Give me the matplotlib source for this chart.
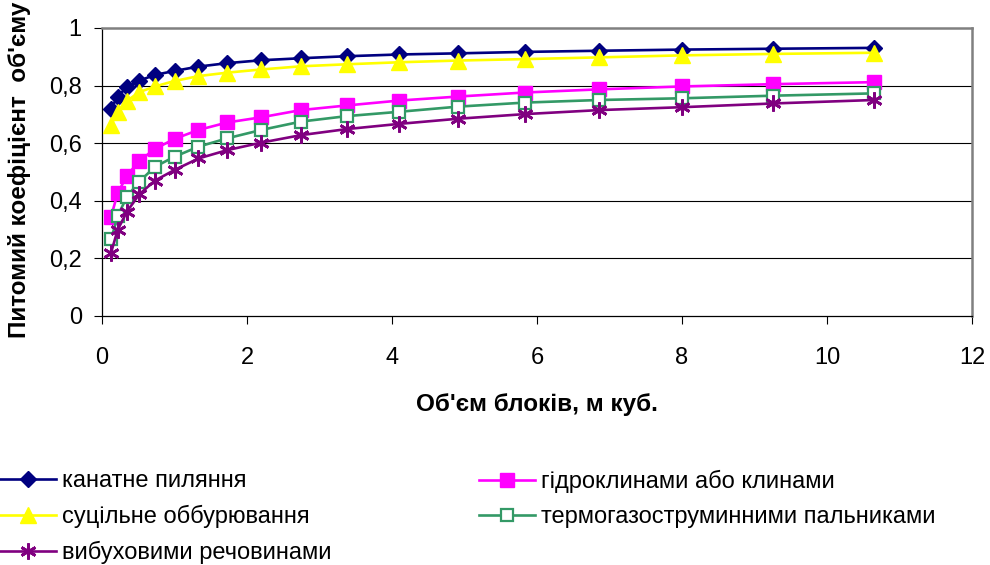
import matplotlib
matplotlib.use('Agg')
import matplotlib.pyplot as plt

plt.rcParams['font.family'] = ['Liberation Sans', 'DejaVu Sans']

# Об'єм блоків, м куб.
volume = [0.125, 0.216, 0.343, 0.512, 0.729, 1.0, 1.331, 1.728, 2.197,
          2.744, 3.375, 4.096, 4.913, 5.832, 6.859, 8.0, 9.261, 10.648]

# Питомий коефіцієнт об'єму
kanatne = [0.72, 0.762, 0.795, 0.817, 0.837, 0.851, 0.866, 0.878, 0.888,
           0.895, 0.902, 0.908, 0.912, 0.917, 0.921, 0.925, 0.928, 0.931]
hidroklyny = [0.345, 0.426, 0.487, 0.538, 0.580, 0.615, 0.646, 0.672, 0.690,
              0.715, 0.731, 0.748, 0.762, 0.776, 0.787, 0.797, 0.805, 0.812]
obburyuvannya = [0.663, 0.71, 0.747, 0.777, 0.797, 0.816, 0.833, 0.845, 0.856,
                 0.867, 0.874, 0.881, 0.887, 0.892, 0.898, 0.905, 0.910, 0.914]
termogaz = [0.266, 0.347, 0.414, 0.466, 0.518, 0.553, 0.588, 0.617, 0.646,
            0.675, 0.694, 0.709, 0.727, 0.741, 0.75, 0.756, 0.765, 0.773]
vybukhovi = [0.220, 0.299, 0.362, 0.422, 0.470, 0.507, 0.547, 0.576, 0.602,
             0.628, 0.649, 0.667, 0.685, 0.701, 0.715, 0.725, 0.738, 0.75]

labels = ['канатне пиляння', 'гідроклинами або клинами', 'суцільне оббурювання',
          'термогазоструминними пальниками', 'вибуховими речовинами']

xticks = [0, 2, 4, 6, 8, 10, 12]
yticks = [0, 0.2, 0.4, 0.6, 0.8, 1.0]
ytick_labels = ['0', '0,2', '0,4', '0,6', '0,8', '1']

W, H = 990, 565
fig = plt.figure(figsize=(W / 100, H / 100), dpi=100)
ax = fig.add_axes([102 / W, 1 - 316 / H, 870 / W, 288 / H])

styles = [
    dict(color='#000080', marker='D', ms=8, mfc='#000080', mec='#000080'),
    dict(color='#FF00FF', marker='s', ms=10.5, mfc='#FF00FF', mec='#FF00FF'),
    dict(color='#FFFF00', marker='^', ms=11, mfc='#FFFF00', mec='#FFFF00'),
    dict(color='#339966', marker='s', ms=9, mfc='white', mec='#339966', mew=1.6),
    dict(color='#800080', marker=(6, 2, 0), ms=11.5, mec='#800080', mew=2),
]
series = [kanatne, hidroklyny, obburyuvannya, termogaz, vybukhovi]

handles = []
for ys, st, lab in zip(series, styles, labels):
    h, = ax.plot(volume, ys, lw=1.9, label=lab, clip_on=False, zorder=3, **st)
    handles.append(h)

ax.set_xlim(0, 12)
ax.set_ylim(0, 1)
ax.set_xticks(xticks)
ax.set_yticks(yticks)
ax.set_yticklabels(ytick_labels)
ax.tick_params(axis='both', direction='out', length=5.5, width=0.8,
               labelsize=17, colors='black')
ax.tick_params(axis='x', pad=17)
ax.tick_params(axis='y', pad=9)

for y in yticks[1:-1]:
    ax.axhline(y, color='black', lw=0.8, zorder=1)

for side in ['top', 'right']:
    ax.spines[side].set_color('#808080')
    ax.spines[side].set_linewidth(1.8)
for side in ['left', 'bottom']:
    ax.spines[side].set_color('black')
    ax.spines[side].set_linewidth(0.9)

fig.text(20 / W, 1 - 170 / H, "Питомий коефіцієнт  об'єму", rotation=90,
         ha='center', va='center', fontsize=17.5, fontweight='bold')
fig.text(537 / W, 1 - 404 / H, "Об'єм блоків, м куб.",
         ha='center', va='center', fontsize=17.5, fontweight='bold')

leg_kw = dict(frameon=False, fontsize=17, handlelength=2.37, handletextpad=0.25,
              borderpad=0, borderaxespad=0, labelspacing=0.55, numpoints=1)
leg1 = fig.legend([handles[0], handles[2], handles[4]],
                  [labels[0], labels[2], labels[4]],
                  loc='upper left', bbox_to_anchor=(0, 1 - 470 / H), **leg_kw)
leg2 = fig.legend([handles[1], handles[3]], [labels[1], labels[3]],
                  loc='upper left', bbox_to_anchor=(479 / W, 1 - 470 / H), **leg_kw)

fig.savefig('out.png', dpi=100, facecolor='white')
